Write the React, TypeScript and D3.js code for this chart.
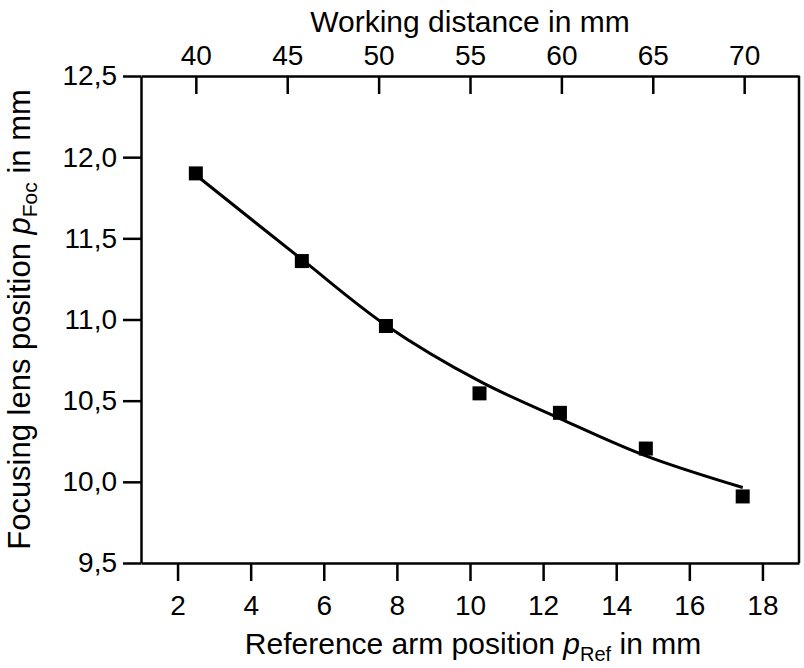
import React, { useEffect, useRef } from "react";
import * as d3 from "d3";

// measured points: reference arm position vs focusing lens position
const refPos = [2.5, 5.4, 7.7, 10.26, 12.46, 14.81, 17.46];
const focPos = [11.9, 11.36, 10.96, 10.545, 10.425, 10.205, 9.91];

// fit curve
const fitRef = [2.5, 5.4, 7.7, 10.26, 12.46, 14.81, 17.46];
const fitFoc = [11.89, 11.37, 10.965, 10.62, 10.39, 10.16, 9.965];

const bottomTicks = [2, 4, 6, 8, 10, 12, 14, 16, 18];
const bottomMinor = [1, 3, 5, 7, 9, 11, 13, 15, 17, 19];
const topTicks = [40, 45, 50, 55, 60, 65, 70];
const topMinor = [37.5, 42.5, 47.5, 52.5, 57.5, 62.5, 67.5, 72.5];
const leftTicks = [9.5, 10, 10.5, 11, 11.5, 12, 12.5];
const leftMinor = [9.75, 10.25, 10.75, 11.25, 11.75, 12.25];

const W = 804;
const H = 668;
const font = "'Liberation Sans', Arial, sans-serif";

const App = () => {
  const ref = useRef<SVGSVGElement>(null);

  useEffect(() => {
    const svg = d3.select(ref.current);
    svg.selectAll("*").remove();

    const margin = { top: 76, right: 5, bottom: 105, left: 141 };
    const x0 = margin.left;
    const x1 = W - margin.right;
    const y0 = H - margin.bottom;
    const y1 = margin.top;

    const x = d3.scaleLinear().domain([1, 19]).range([x0, x1]);
    const xTop = d3.scaleLinear().domain([37, 73]).range([x0, x1]);
    const y = d3.scaleLinear().domain([9.5, 12.5]).range([y0, y1]);

    const comma = (d: number) => d3.format(".1f")(d).replace(".", ",");
    const major = 18;
    const minor = 10;

    const styleAxis = (g: any, fs: number) => {
      g.selectAll("path").attr("stroke", "#000").attr("stroke-width", 2.5);
      g.selectAll("line").attr("stroke", "#000").attr("stroke-width", 2.5);
      g.selectAll("text").attr("fill", "#000").style("font-size", fs + "px").style("font-family", font);
    };

    // bottom axis
    const gb = svg.append("g").attr("transform", `translate(0,${y0})`);
    gb.call(d3.axisBottom(x).tickValues(bottomMinor).tickSize(minor).tickSizeOuter(0).tickFormat(() => ""));
    gb.call(d3.axisBottom(x).tickValues(bottomTicks).tickSize(major).tickSizeOuter(0).tickPadding(14).tickFormat(d3.format("d")));
    styleAxis(gb, 28);

    // top axis, ticks point inward
    const gt = svg.append("g").attr("transform", `translate(0,${y1})`);
    gt.call(d3.axisTop(xTop).tickValues(topMinor).tickSize(-minor).tickSizeOuter(0).tickFormat(() => ""));
    gt.call(d3.axisTop(xTop).tickValues(topTicks).tickSize(-major).tickSizeOuter(0).tickPadding(11).tickFormat(d3.format("d")));
    styleAxis(gt, 28);

    // left axis
    const gl = svg.append("g").attr("transform", `translate(${x0},0)`);
    gl.call(d3.axisLeft(y).tickValues(leftMinor).tickSize(minor).tickSizeOuter(0).tickFormat(() => ""));
    gl.call(d3.axisLeft(y).tickValues(leftTicks).tickSize(major).tickSizeOuter(0).tickPadding(6).tickFormat(comma as any));
    styleAxis(gl, 28);

    // right axis line
    svg.append("line")
      .attr("x1", x1).attr("x2", x1).attr("y1", y1).attr("y2", y0)
      .attr("stroke", "#000").attr("stroke-width", 2.5);

    // fit curve
    const fit = fitRef.map((r, i) => [r, fitFoc[i]] as [number, number]);
    const lineGen = d3.line<[number, number]>()
      .x(d => x(d[0]))
      .y(d => y(d[1]))
      .curve(d3.curveCatmullRom.alpha(0.5));
    svg.append("path")
      .datum(fit)
      .attr("fill", "none")
      .attr("stroke", "#000")
      .attr("stroke-width", 3)
      .attr("d", lineGen);

    // squares
    const sz = 14;
    svg.selectAll("rect.pt")
      .data(refPos.map((r, i) => ({ r, f: focPos[i] })))
      .enter()
      .append("rect")
      .attr("class", "pt")
      .attr("x", d => x(d.r) - sz / 2)
      .attr("y", d => y(d.f) - sz / 2)
      .attr("width", sz)
      .attr("height", sz)
      .attr("fill", "#000");

    // titles
    svg.append("text")
      .attr("x", 470)
      .attr("y", 32)
      .attr("text-anchor", "middle")
      .style("font-family", font)
      .style("font-size", "30px")
      .text("Working distance in mm");

    const bt = svg.append("text")
      .attr("x", 473)
      .attr("y", 654)
      .attr("text-anchor", "middle")
      .style("font-family", font)
      .style("font-size", "30px");
    bt.append("tspan").text("Reference arm position ");
    bt.append("tspan").style("font-style", "italic").text("p");
    bt.append("tspan").attr("dy", 7).style("font-size", "20px").text("Ref");
    bt.append("tspan").attr("dy", -7).text(" in mm");

    const lt = svg.append("text")
      .attr("transform", `translate(30,${(y0 + y1) / 2}) rotate(-90)`)
      .attr("text-anchor", "middle")
      .style("font-family", font)
      .style("font-size", "31px");
    lt.append("tspan").text("Focusing lens position ");
    lt.append("tspan").style("font-style", "italic").text("p");
    lt.append("tspan").attr("dy", 7).style("font-size", "21px").text("Foc");
    lt.append("tspan").attr("dy", -7).text(" in mm");
  }, []);

  return (
    <svg
      ref={ref}
      width={W}
      height={H}
      style={{ position: "absolute", left: 0, top: 0, background: "#fff" }}
    />
  );
};

export default App;
